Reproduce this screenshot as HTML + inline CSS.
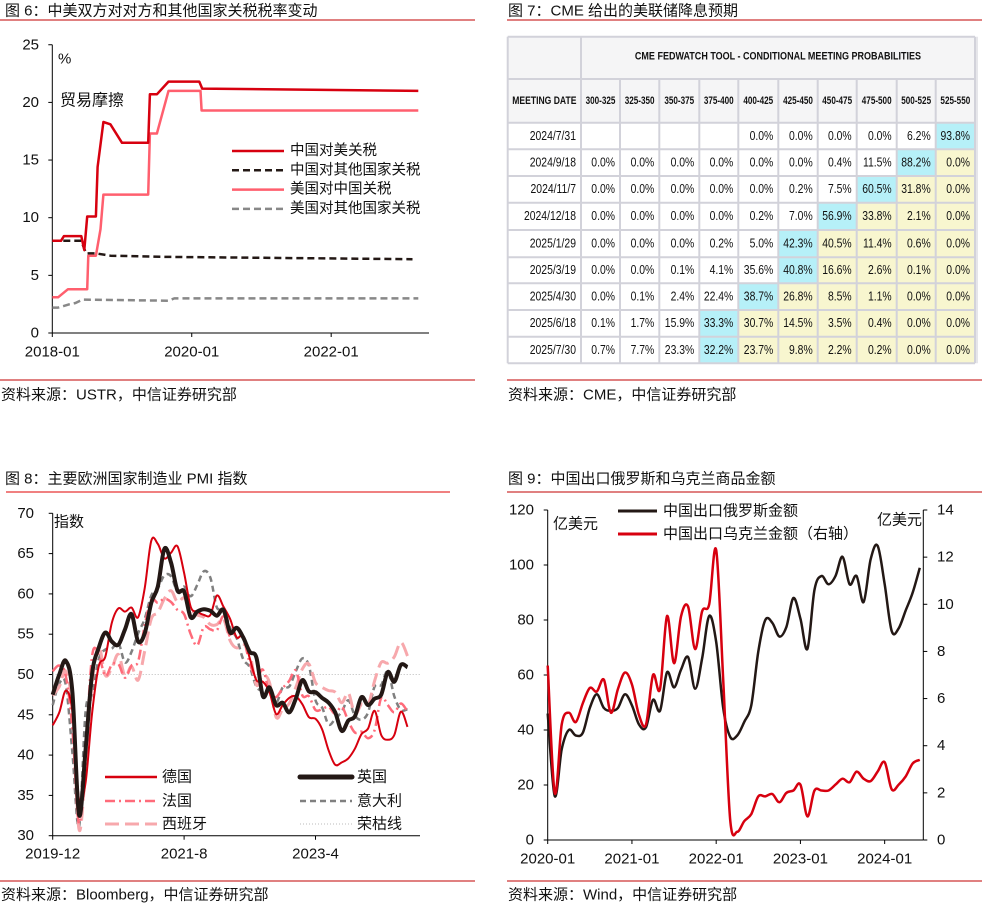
<!DOCTYPE html>
<html><head><meta charset="utf-8">
<style>
html,body{margin:0;padding:0;background:#fff;}
body{width:986px;height:911px;overflow:hidden;position:relative;font-family:"Liberation Sans","Noto Sans CJK SC",sans-serif;}
svg{position:absolute;left:0;top:0;}
text{font-family:"Liberation Sans","Noto Sans CJK SC",sans-serif;fill:#111;}
</style></head>
<body>
<svg id="s" width="986" height="911" viewBox="0 0 986 911" xmlns="http://www.w3.org/2000/svg"></svg>
<script>
// ---------- Chart 1 data (months since 2018-01) ----------
const c1xTicks = ["2018-01","2020-01","2022-01"];
const c1yTicks = [0,5,10,15,20,25];
const cnUsM = [0,1.5,2,5,5.5,6,7.5,7.8,8.8,10,12,16.5,16.8,18,20,25.3,25.8,63];
const cnUsV = [8.0,8.0,8.4,8.4,7.2,10.1,10.1,14.4,18.3,18.1,16.5,16.5,20.7,20.7,21.8,21.8,21.2,21.0];
const cnOtM = [0,5,5.8,7.5,10,20,62];
const cnOtV = [8.0,8.0,6.9,6.9,6.7,6.6,6.4];
const usCnM = [0,1,2.7,6,6.2,7.5,8.3,8.8,16.5,16.8,18,20,25.5,25.7,63];
const usCnV = [3.1,3.1,3.8,3.8,6.7,6.7,9.0,12.0,12.0,17.3,17.3,21.0,21.0,19.3,19.3];
const usOtM = [0,1,3,4,5.2,20,21,63];
const usOtV = [2.2,2.2,2.5,2.6,2.9,2.8,3.0,3.0];

// ---------- Chart 2 table ----------
const tblCols = ["300-325","325-350","350-375","375-400","400-425","425-450","450-475","475-500","500-525","525-550"];
const tblDates = ["2024/7/31","2024/9/18","2024/11/7","2024/12/18","2025/1/29","2025/3/19","2025/4/30","2025/6/18","2025/7/30"];
const tblVals = [
 ["","","","","0.0%","0.0%","0.0%","0.0%","6.2%","93.8%"],
 ["0.0%","0.0%","0.0%","0.0%","0.0%","0.0%","0.4%","11.5%","88.2%","0.0%"],
 ["0.0%","0.0%","0.0%","0.0%","0.0%","0.2%","7.5%","60.5%","31.8%","0.0%"],
 ["0.0%","0.0%","0.0%","0.0%","0.2%","7.0%","56.9%","33.8%","2.1%","0.0%"],
 ["0.0%","0.0%","0.0%","0.2%","5.0%","42.3%","40.5%","11.4%","0.6%","0.0%"],
 ["0.0%","0.0%","0.1%","4.1%","35.6%","40.8%","16.6%","2.6%","0.1%","0.0%"],
 ["0.0%","0.1%","2.4%","22.4%","38.7%","26.8%","8.5%","1.1%","0.0%","0.0%"],
 ["0.1%","1.7%","15.9%","33.3%","30.7%","14.5%","3.5%","0.4%","0.0%","0.0%"],
 ["0.7%","7.7%","23.3%","32.2%","23.7%","9.8%","2.2%","0.2%","0.0%","0.0%"]];
const tblMaxCol = [9,8,7,6,5,5,4,3,3];

// ---------- Chart 3 PMI (monthly from 2019-12) ----------
const c3xTicks = ["2019-12","2021-8","2023-4"];
const c3yTicks = [30,35,40,45,50,55,60,65,70];
const pmiDE = [43.7,45.3,48.0,45.4,34.5,36.6,45.2,51.0,52.2,56.4,58.2,57.8,58.3,57.1,60.7,66.6,66.2,64.4,65.1,65.9,62.6,58.4,57.8,57.4,57.4,59.8,58.4,56.9,54.6,54.8,52.0,49.3,49.1,47.8,45.1,46.2,47.1,47.3,46.3,44.7,44.5,43.2,40.6,38.8,39.1,39.6,40.8,42.6,43.3,45.5,42.5,41.9,42.5,45.4,43.5];
const pmiUK = [47.5,50.0,51.7,47.8,32.6,40.7,50.1,53.3,55.2,54.1,53.7,55.6,57.5,54.1,55.1,58.9,60.9,65.6,63.9,60.4,60.3,57.1,57.8,58.1,57.9,57.3,58.0,55.2,55.8,54.6,52.8,52.1,47.3,48.4,46.2,46.5,45.3,47.0,49.3,47.9,47.8,47.1,46.5,45.3,43.0,44.3,44.8,47.2,46.2,47.0,47.5,50.3,49.1,51.2,50.9];
const pmiFR = [50.4,51.1,49.8,43.2,31.5,40.6,52.3,52.4,49.8,51.2,51.3,49.6,51.1,51.6,56.1,59.3,58.9,59.4,59.0,58.0,57.5,55.0,53.6,55.9,55.6,55.5,57.2,54.7,55.7,54.6,51.4,49.5,50.6,47.7,47.2,48.3,49.2,50.5,47.4,47.3,45.6,45.7,46.0,45.1,46.0,44.2,42.8,42.9,42.1,43.1,47.1,46.2,45.3,46.4,45.4];
const pmiIT = [46.2,48.9,48.7,40.3,31.1,45.4,47.5,51.9,53.1,53.2,53.9,51.5,52.8,55.1,56.9,59.8,60.7,62.3,62.2,60.3,60.9,59.7,61.1,62.8,62.0,58.3,58.3,55.8,54.5,51.9,50.9,48.5,48.0,48.3,46.5,48.4,48.5,50.4,52.0,51.1,46.8,45.9,43.8,44.5,45.4,46.8,44.9,44.4,45.3,48.5,48.7,50.4,47.3,45.6,45.7];
const pmiES = [47.4,48.5,50.4,45.7,30.8,38.3,49.0,53.5,49.9,50.8,52.5,49.8,51.0,49.3,52.9,56.9,57.7,59.4,60.4,59.0,59.5,58.1,57.4,57.1,56.2,56.2,56.9,54.2,53.3,53.8,52.6,48.7,49.9,49.0,44.7,45.7,46.4,48.4,50.7,51.3,49.0,48.4,48.0,47.8,46.5,47.7,45.1,46.3,46.2,49.2,51.5,51.4,52.2,54.0,52.3];
const boomBust = 50;

// ---------- Chart 4 exports (monthly from 2020-01) ----------
const c4xTicks = ["2020-01","2021-01","2022-01","2023-01","2024-01"];
const c4yTicksL = [0,20,40,60,80,100,120];
const c4yTicksR = [0,2,4,6,8,10,12,14];
const expRU = [46,16,33,40,38,39,48,53,48,47,48,53,49,42,41,51,47,61,55.5,62,66.5,55,66,81.5,72,48,37.5,38,43,49,68.5,80,79,74,77.5,88,80.5,69.5,91,96,93,96,103,93,96,86.5,102,107,93,76,77,83.5,90,99];
const expUA = [7.4,2.0,4.9,5.4,5.0,5.8,6.45,6.3,6.8,5.4,6.4,7.1,6.6,5.3,4.9,7.0,6.4,9.5,7.5,9.5,9.9,8.1,9.7,10.0,12.3,6.8,0.85,0.35,0.8,1.1,1.85,1.85,1.95,1.6,2.0,2.1,2.35,1.0,2.1,2.1,2.1,2.35,2.6,2.45,2.9,2.6,2.5,2.9,3.3,2.15,2.35,2.7,3.25,3.4];

const NS='http://www.w3.org/2000/svg';
const svg=document.getElementById('s');
function mk(tag,attrs,parent){const e=document.createElementNS(NS,tag);for(const k in attrs)e.setAttribute(k,attrs[k]);(parent||svg).appendChild(e);return e;}
function txt(x,y,s,size,anchor,parent,fill){const t=mk('text',{x:x,y:y,'font-size':size,'text-anchor':anchor||'start','dominant-baseline':'central'},parent);if(fill)t.setAttribute('fill',fill);t.textContent=s;return t;}
function smooth(pts){let d='M'+pts[0][0].toFixed(1)+','+pts[0][1].toFixed(1);for(let i=0;i<pts.length-1;i++){const p0=pts[i-1]||pts[i],p1=pts[i],p2=pts[i+1],p3=pts[i+2]||p2;const c1x=p1[0]+(p2[0]-p0[0])/6,c1y=p1[1]+(p2[1]-p0[1])/6,c2x=p2[0]-(p3[0]-p1[0])/6,c2y=p2[1]-(p3[1]-p1[1])/6;d+=' C'+c1x.toFixed(1)+','+c1y.toFixed(1)+' '+c2x.toFixed(1)+','+c2y.toFixed(1)+' '+p2[0].toFixed(1)+','+p2[1].toFixed(1);}return d;}
function poly(pts){return 'M'+pts.map(p=>p[0].toFixed(1)+','+p[1].toFixed(1)).join(' L');}

// ---------- headers / footers ----------
const hdr=mk('g',{});


txt(5,11,'图 6：中美双方对对方和其他国家关税税率变动',15,'start',hdr);
mk('line',{x1:0,y1:20,x2:475,y2:20,stroke:'#c00000','stroke-width':1},hdr);
txt(508,11,'图 7：CME 给出的美联储降息预期',15,'start',hdr);
mk('line',{x1:507,y1:20,x2:982,y2:20,stroke:'#c00000','stroke-width':1},hdr);
txt(5,479,'图 8：主要欧洲国家制造业 PMI 指数',15,'start',hdr);
mk('line',{x1:6,y1:492,x2:450,y2:492,stroke:'#e00000','stroke-width':1},hdr);
txt(508,479,'图 9：中国出口俄罗斯和乌克兰商品金额',15,'start',hdr);
mk('line',{x1:507,y1:492,x2:982,y2:492,stroke:'#c00000','stroke-width':1},hdr);
mk('line',{x1:0,y1:380,x2:475,y2:380,stroke:'#c00000','stroke-width':1},hdr);
txt(1,395,'资料来源：USTR，中信证券研究部',15,'start',hdr);
mk('line',{x1:507,y1:380,x2:982,y2:380,stroke:'#c00000','stroke-width':1},hdr);
txt(508,395,'资料来源：CME，中信证券研究部',15,'start',hdr);
mk('line',{x1:0,y1:881,x2:475,y2:881,stroke:'#c00000','stroke-width':1},hdr);
txt(1,895,'资料来源：Bloomberg，中信证券研究部',15,'start',hdr);
mk('line',{x1:507,y1:881,x2:982,y2:881,stroke:'#c00000','stroke-width':1},hdr);
txt(508,895,'资料来源：Wind，中信证券研究部',15,'start',hdr);

// ---------- Chart 1 ----------
(function(){
const g=mk('g',{});


const x0=52.3,pm=5.81,y0=333,pu=11.53;
const X=m=>x0+m*pm, Y=v=>y0-v*pu;
mk('line',{x1:x0,y1:Y(25),x2:x0,y2:y0,stroke:'#000','stroke-width':1},g);
mk('line',{x1:x0,y1:y0,x2:429,y2:y0,stroke:'#000','stroke-width':1},g);
c1yTicks.forEach(v=>{mk('line',{x1:x0-4,y1:Y(v),x2:x0,y2:Y(v),stroke:'#000'},g);const t=txt(39,Y(v),String(v),15,'end',g);});
c1xTicks.forEach((s,i)=>{const x=X(i*24);mk('line',{x1:x,y1:y0,x2:x,y2:y0+4,stroke:'#000'},g);const t=txt(x,352,s,15,'middle',g);});
txt(58,59,'%',15,'start',g);
txt(60,101,'贸易摩擦',16,'start',g);
const series=[[usOtM,usOtV,'#888888','7,4','us-other-line'],[cnOtM,cnOtV,'#231815','7,4','cn-other-line'],[usCnM,usCnV,'#ff5f6e',null,'us-china-line'],[cnUsM,cnUsV,'#d7000f',null,'cn-us-line']];
series.forEach(s=>{const p=mk('path',{d:poly(s[0].map((m,i)=>[X(m),Y(s[1][i])])),fill:'none',stroke:s[2],'stroke-width':2.5,'stroke-linejoin':'round'},g);if(s[3])p.setAttribute('stroke-dasharray',s[3]);});
const leg=[['中国对美关税','#d7000f',null],['中国对其他国家关税','#231815','7,4'],['美国对中国关税','#ff5f6e',null],['美国对其他国家关税','#888888','7,4']];
leg.forEach((l,i)=>{const y=151+i*19.3;const ln=mk('line',{x1:232,y1:y,x2:284,y2:y,stroke:l[1],'stroke-width':2.5},g);if(l[2])ln.setAttribute('stroke-dasharray',l[2]);const t=txt(290,y,l[0],14.5,'start',g);});
})();

// ---------- Chart 2 table ----------
(function(){
const g=mk('g',{});


const cx=[507.7,581,620,659.3,699.3,738.3,778.3,817.7,856.7,896.7,935.7,975];
const ry=[36.7,79,122.7,149.3,176,202.7,230,257.3,283.3,310,336.7,363.3];
mk('rect',{x:cx[0],y:ry[0],width:cx[11]-cx[0],height:ry[2]-ry[0],fill:'#f5f5f6'},g);
for(let r=0;r<tblDates.length;r++){for(let c=0;c<10;c++){let f=null;if(c===tblMaxCol[r])f='#b6f0f8';else if(c>tblMaxCol[r])f='#f8f6cf';if(f)mk('rect',{x:cx[c+1],y:ry[r+2],width:cx[c+2]-cx[c+1],height:ry[r+3]-ry[r+2],fill:f},g);}}
const bc='#d2d2da';
ry.forEach((y,i)=>{mk('line',{x1:cx[0],y1:y,x2:cx[11],y2:y,stroke:bc,'stroke-width':2},g);});
cx.forEach((x,i)=>{const top=(i===0||i===1||i===11)?ry[0]:ry[1];mk('line',{x1:x,y1:top,x2:x,y2:ry[11],stroke:bc,'stroke-width':2},g);});
mk('line',{x1:cx[11]+2,y1:ry[0],x2:cx[11]+2,y2:ry[11],stroke:'#e6e6ea','stroke-width':2},g);
const mxT=(cx[1]+cx[11])/2;
const ttl=txt(mxT,57,'CME FEDWATCH TOOL - CONDITIONAL MEETING PROBABILITIES',11,'middle',g,'#222');ttl.setAttribute('font-weight','bold');ttl.setAttribute('transform','translate('+mxT+',0) scale(0.82,1) translate('+(-mxT)+',0)');
const mxH=(cx[0]+cx[1])/2;
const hd=txt(mxH,101,'MEETING DATE',11,'middle',g,'#222');hd.setAttribute('font-weight','bold');hd.setAttribute('transform','translate('+mxH+',0) scale(0.78,1) translate('+(-mxH)+',0)');
tblCols.forEach((s,c)=>{const mx=(cx[c+1]+cx[c+2])/2;const t=txt(mx,101,s,11,'middle',g,'#222');t.setAttribute('font-weight','bold');t.setAttribute('transform','translate('+mx+',0) scale(0.74,1) translate('+(-mx)+',0)');});
tblDates.forEach((d,r)=>{const my=(ry[r+2]+ry[r+3])/2;const x=cx[1]-5;const t=txt(x,my,d,13,'end',g,'#222');t.setAttribute('transform','translate('+x+',0) scale(0.8,1) translate('+(-x)+',0)');
 tblVals[r].forEach((v,c)=>{if(!v)return;const xx=cx[c+2]-5;const tt=txt(xx,my,v,13,'end',g,'#222');tt.setAttribute('transform','translate('+xx+',0) scale(0.8,1) translate('+(-xx)+',0)');});});
})();

// ---------- Chart 3 ----------
(function(){
const g=mk('g',{});


const x0=52.7,pm=6.57,yb=835.7,pu=8.06;
const X=m=>x0+m*pm, Y=v=>yb-(v-30)*pu;
mk('line',{x1:x0,y1:Y(70),x2:x0,y2:yb,stroke:'#000'},g);
mk('line',{x1:x0,y1:yb,x2:420,y2:yb,stroke:'#000'},g);
c3yTicks.forEach(v=>{mk('line',{x1:x0-4,y1:Y(v),x2:x0,y2:Y(v),stroke:'#000'},g);const t=txt(34,Y(v),String(v),15,'end',g);});
c3xTicks.forEach((s,i)=>{const x=X(i*20);mk('line',{x1:x,y1:yb,x2:x,y2:yb+4,stroke:'#000'},g);const t=txt(x,854,s,15,'middle',g);});
txt(54,522,'指数',15,'start',g);
mk('line',{x1:x0,y1:Y(boomBust),x2:420,y2:Y(boomBust),stroke:'#bbb','stroke-width':1,'stroke-dasharray':'1,2'},g);
const series=[[pmiIT,'#808080',2.5,'6,4','italy-line'],[pmiES,'#f7a8ac',3,'14,6','spain-line'],[pmiFR,'#ff6b7a',2.5,'10,4,2,4','france-line'],[pmiDE,'#d7000f',2,null,'germany-line'],[pmiUK,'#231815',4,null,'uk-line']];
series.forEach(s=>{const p=mk('path',{d:smooth(s[0].map((v,i)=>[X(i),Y(v)])),fill:'none',stroke:s[1],'stroke-width':s[2],'stroke-linejoin':'round'},g);if(s[3])p.setAttribute('stroke-dasharray',s[3]);});
const leg=[[105,777,'德国','#d7000f',2.5,null],[105,801,'法国','#ff6b7a',2.5,'10,4,2,4'],[105,824,'西班牙','#f7a8ac',3,'14,6'],[300,777,'英国','#231815',5,null],[300,801,'意大利','#808080',2.5,'6,4'],[300,824,'荣枯线','#bbb',1,'1,2']];
leg.forEach(l=>{const ln=mk('line',{x1:l[0],y1:l[1],x2:l[0]+52,y2:l[1],stroke:l[3],'stroke-width':l[4],'stroke-linecap':l[4]>=5?'round':'butt'},g);if(l[5])ln.setAttribute('stroke-dasharray',l[5]);const t=txt(l[0]+57,l[1],l[2],15,'start',g);});
})();

// ---------- Chart 4 ----------
(function(){
const g=mk('g',{});


const x0=547.7,xr=923.3,pm=7.02,yb=840,yt=510;
const X=m=>x0+m*pm, YL=v=>yb-v*(yb-yt)/120, YR=v=>yb-v*(yb-yt)/14;
mk('line',{x1:x0,y1:yt,x2:x0,y2:yb,stroke:'#000'},g);
mk('line',{x1:xr,y1:yt,x2:xr,y2:yb,stroke:'#000'},g);
mk('line',{x1:x0,y1:yb,x2:xr,y2:yb,stroke:'#000'},g);
c4yTicksL.forEach(v=>{mk('line',{x1:x0-4,y1:YL(v),x2:x0,y2:YL(v),stroke:'#000'},g);const t=txt(534,YL(v),String(v),15,'end',g);});
c4yTicksR.forEach(v=>{mk('line',{x1:xr,y1:YR(v),x2:xr+4,y2:YR(v),stroke:'#000'},g);const t=txt(937,YR(v),String(v),15,'start',g);});
c4xTicks.forEach((s,i)=>{const x=X(i*12);mk('line',{x1:x,y1:yb,x2:x,y2:yb+4,stroke:'#000'},g);const t=txt(x,859,s,15,'middle',g);});
txt(553,524,'亿美元',15,'start',g);
txt(877,520,'亿美元',15,'start',g);
const ru=mk('path',{d:smooth(expRU.map((v,i)=>[X(i),YL(v)])),fill:'none',stroke:'#231815','stroke-width':2.5},g);


const ua=mk('path',{d:smooth(expUA.map((v,i)=>[X(i),YR(v)])),fill:'none',stroke:'#d7000f','stroke-width':2.5},g);


mk('line',{x1:618,y1:511,x2:657,y2:511,stroke:'#231815','stroke-width':3},g);
const t1=txt(663,511,'中国出口俄罗斯金额',15,'start',g);


mk('line',{x1:618,y1:534,x2:657,y2:534,stroke:'#d7000f','stroke-width':3},g);
const t2=txt(663,534,'中国出口乌克兰金额（右轴）',15,'start',g);


})();
</script>
</body></html>
